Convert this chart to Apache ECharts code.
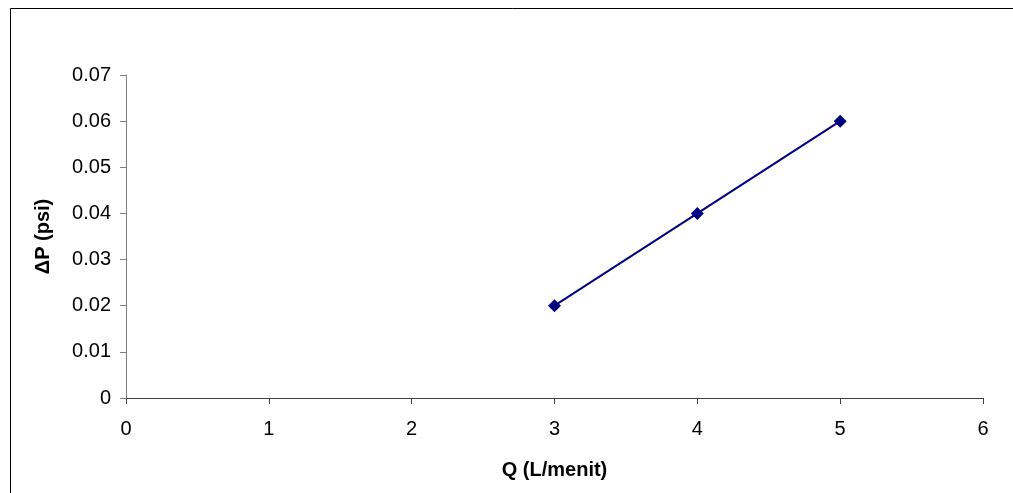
<!DOCTYPE html>
<html>
<head>
<meta charset="utf-8">
<script src="https://cdn.jsdelivr.net/npm/echarts@6/dist/echarts.min.js"></script>
<style>
html,body{margin:0;padding:0;background:#fff;}
#chart{width:1013px;height:493px;}
</style>
</head>
<body>
<div id="chart"></div>
<script>
const qValues = [3, 4, 5];
const dpValues = [0.02, 0.04, 0.06];
const xTitle = 'Q (L/menit)';
const yTitle = '\u0394P (psi)';

const chart = echarts.init(document.getElementById('chart'), null, {renderer: 'canvas'});
const font = '"Liberation Sans", Arial, sans-serif';
chart.setOption({
  backgroundColor: '#fff',
  animation: false,
  graphic: [{
    type: 'rect',
    shape: {x: 10.5, y: 8.5, width: 1020, height: 500},
    style: {fill: 'none', stroke: '#000', lineWidth: 1}
  }],
  grid: {left: 126, right: 30, top: 75, bottom: 95},
  xAxis: {
    type: 'value', min: 0, max: 6, interval: 1,
    name: xTitle, nameLocation: 'middle', nameGap: 62,
    nameTextStyle: {fontFamily: font, fontSize: 20, fontWeight: 'bold', color: '#000'},
    axisLine: {show: true, lineStyle: {color: '#404040', width: 1}},
    axisTick: {show: true, inside: false, length: 6, lineStyle: {color: '#404040'}},
    axisLabel: {fontFamily: font, fontSize: 20, color: '#000', margin: 21},
    splitLine: {show: false}
  },
  yAxis: {
    type: 'value', min: 0, max: 0.07, interval: 0.01,
    name: yTitle, nameLocation: 'middle', nameGap: 73, nameRotate: 90,
    nameTextStyle: {fontFamily: font, fontSize: 20, fontWeight: 'bold', color: '#000'},
    axisLine: {show: true, lineStyle: {color: '#808080', width: 1}},
    axisTick: {show: true, inside: false, length: 6, lineStyle: {color: '#808080'}},
    axisLabel: {fontFamily: font, fontSize: 20, color: '#000', margin: 15,
      formatter: v => v === 0 ? '0' : v.toFixed(2)},
    splitLine: {show: false}
  },
  series: [{
    type: 'line',
    data: qValues.map((q, i) => [q, dpValues[i]]),
    symbol: 'diamond', symbolSize: 13,
    lineStyle: {color: '#000080', width: 2},
    itemStyle: {color: '#000080'}
  }]
});
</script>
</body>
</html>
